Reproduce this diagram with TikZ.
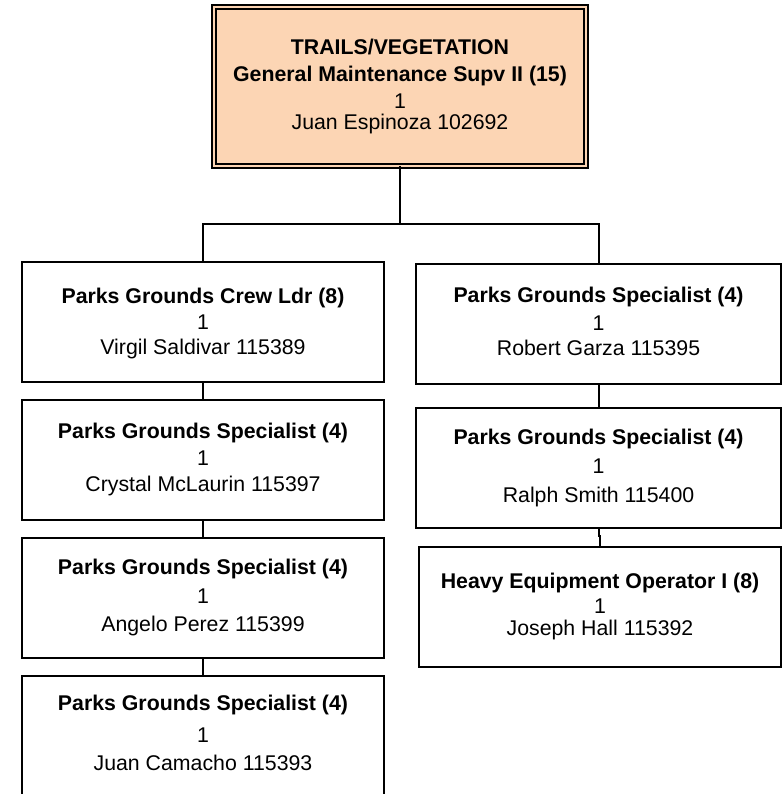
\documentclass[tikz,border=0pt]{standalone}
\usepackage{fontspec}
\setmainfont{Liberation Sans}
\usetikzlibrary{calc}
\definecolor{peach}{HTML}{FCD5B4}
\tikzset{
  personbox/.style={draw=black, line width=2pt, rectangle, inner sep=0pt, anchor=north west, minimum height=120pt},
  headbox/.style={draw=black, line width=1.6pt, double=peach, double distance=2.4pt, fill=peach, rectangle, inner sep=0pt, outer sep=0pt, anchor=north west},
  titletxt/.style={anchor=base, inner sep=0pt, font=\fontsize{21.3}{25}\selectfont\bfseries},
  plaintxt/.style={anchor=base, inner sep=0pt, font=\fontsize{21.3}{25}\selectfont},
  link/.style={draw=black, line width=2pt},
}
\newcommand\mkbox[9]{%
  \node[personbox, minimum width=#4pt] (#1) at (#2,-#3) {};
  \node[titletxt] (#1t) at (#1.north |- 0,-#7) {#5};
  \node[plaintxt] (#1c) at (#1.north |- 0,-#8) {1};
  \node[plaintxt] (#1p) at (#1.north |- 0,-#9) {#6};
}
\begin{document}
\begin{tikzpicture}[x=1pt,y=1pt]
\useasboundingbox (0,0) rectangle (782,-794);
\fill[white] (0,0) rectangle (782,-794);
\clip (0,0) rectangle (782,-794);

% head box
\node[headbox, minimum width=372pt, minimum height=159pt] (top) at (214,-7) {};
\node[titletxt] (topa) at (top.north |- 0,-55) {TRAILS/VEGETATION};
\node[titletxt] (topb) at (top.north |- 0,-82) {General Maintenance Supv II (15)};
\node[plaintxt] (topc) at (top.north |- 0,-109) {1};
\node[plaintxt] (topd) at (top.north |- 0,-130) {Juan Espinoza 102692};

% left column
\mkbox{l1}{21}{261}{362}{Parks Grounds Crew Ldr (8)}{Virgil Saldivar 115389}{303}{329}{354}
\mkbox{l2}{21}{399}{362}{Parks Grounds Specialist (4)}{Crystal McLaurin 115397}{438}{465}{491}
\mkbox{l3}{21}{537}{362}{Parks Grounds Specialist (4)}{Angelo Perez 115399}{574}{603}{631}
\mkbox{l4}{21}{675}{362}{Parks Grounds Specialist (4)}{Juan Camacho 115393}{710}{742}{770}

% right column
\mkbox{r1}{415}{263}{365}{Parks Grounds Specialist (4)}{Robert Garza 115395}{302}{330}{355}
\mkbox{r2}{415}{407}{365}{Parks Grounds Specialist (4)}{Ralph Smith 115400}{444}{473}{502}
\mkbox{r3}{418}{546}{362}{Heavy Equipment Operator I (8)}{Joseph Hall 115392}{588}{613}{635}

% connectors
\coordinate (bus) at (top.south |- 0,-224);
\draw[link] (top.south) -- (bus);
\draw[link] (bus) -| (l1.north);
\draw[link] (bus) -| (r1.north);
\draw[link] (l1.south) -- (l2.north);
\draw[link] (l2.south) -- (l3.north);
\draw[link] (l3.south) -- (l4.north);
\draw[link] (r1.south) -- (r2.north);
\draw[link] (r2.south) -- ($(r2.south)+(0,-7)$) -| (r3.north);
\end{tikzpicture}
\end{document}
